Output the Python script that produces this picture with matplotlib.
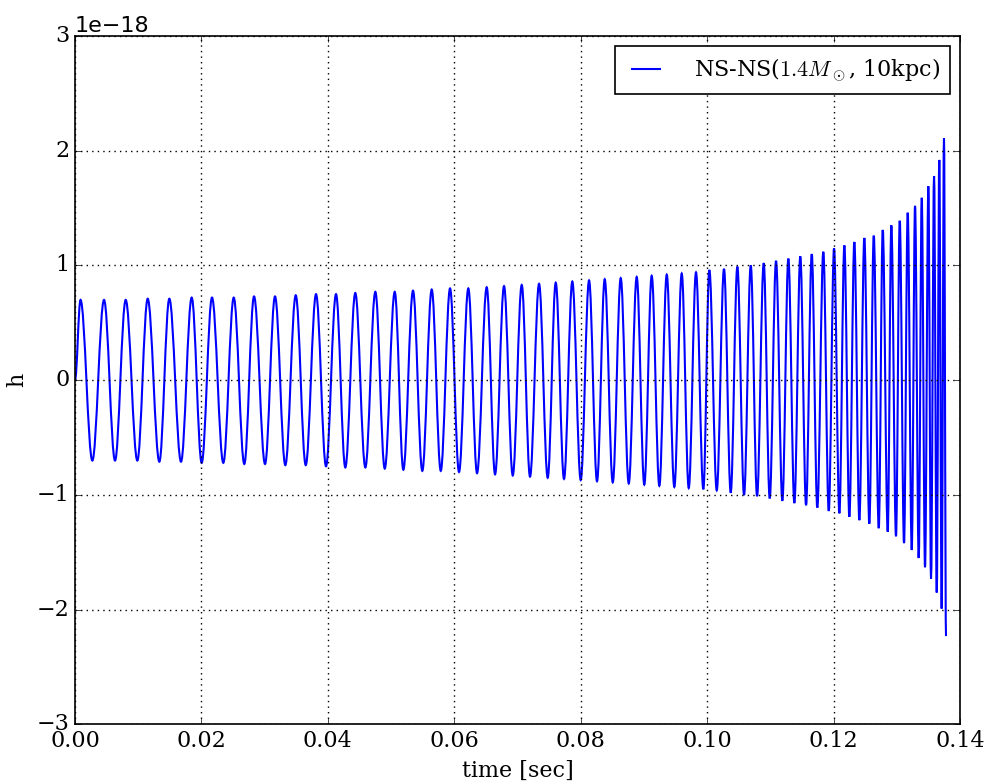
import matplotlib
matplotlib.use("Agg")
import matplotlib.pyplot as plt
import numpy as np
from matplotlib.path import Path
from matplotlib.patches import PathPatch
from matplotlib.lines import Line2D

# successive extrema of the waveform (start at t=0, h=0)
t_ext = [
    0.0, 0.00087, 0.00274, 0.00459, 0.00633, 0.00802, 0.00986, 0.01150,
    0.01334, 0.01492, 0.01677, 0.01846, 0.02004, 0.02167, 0.02346, 0.02511,
    0.02678, 0.02832, 0.03006, 0.03164, 0.03327, 0.03492, 0.03650, 0.03813,
    0.03971, 0.04129, 0.04276, 0.04434, 0.04593, 0.04751, 0.04900, 0.05058,
    0.05194, 0.05347, 0.05494, 0.05643, 0.05786, 0.05933, 0.06075, 0.06222,
    0.06360, 0.06513, 0.06645, 0.06787, 0.06925, 0.07067, 0.07198, 0.07341,
    0.07478, 0.07605, 0.07736, 0.07867, 0.08000, 0.08132, 0.08258, 0.08380,
    0.08507, 0.08633, 0.08760, 0.08886, 0.09006, 0.09123, 0.09244, 0.09361,
    0.09481, 0.09598, 0.09709, 0.09824, 0.09940, 0.10035, 0.10152, 0.10267,
    0.10373, 0.10478, 0.10584, 0.10690, 0.10790, 0.10895, 0.10990, 0.11090,
    0.11190, 0.11285, 0.11380, 0.11474, 0.11565, 0.11655, 0.11743, 0.11838,
    0.11924, 0.12008, 0.12092, 0.12171, 0.12250, 0.12329, 0.12408, 0.12487,
    0.12566, 0.12636, 0.12715, 0.12778, 0.12857, 0.12914, 0.12988, 0.13047,
    0.13115, 0.13173, 0.13237, 0.13289, 0.13347, 0.13395, 0.13447, 0.13500,
    0.13542, 0.13590, 0.13632, 0.13673, 0.13710, 0.13747, 0.13779,
]

# h at those extrema, in units of 1e-18
h_ext = [
    0.0, 0.70, -0.70, 0.70, -0.70, 0.70, -0.70, 0.71,
    -0.71, 0.71, -0.71, 0.72, -0.72, 0.72, -0.72, 0.72,
    -0.73, 0.73, -0.73, 0.73, -0.74, 0.74, -0.74, 0.75,
    -0.75, 0.75, -0.76, 0.76, -0.76, 0.77, -0.77, 0.77,
    -0.78, 0.78, -0.79, 0.79, -0.79, 0.80, -0.80, 0.80,
    -0.81, 0.81, -0.82, 0.82, -0.83, 0.83, -0.84, 0.84,
    -0.85, 0.85, -0.86, 0.86, -0.87, 0.87, -0.88, 0.88,
    -0.89, 0.89, -0.90, 0.90, -0.91, 0.91, -0.92, 0.92,
    -0.93, 0.93, -0.94, 0.94, -0.95, 0.96, -0.96, 0.97,
    -0.98, 0.99, -1.00, 1.00, -1.01, 1.02, -1.03, 1.04,
    -1.05, 1.06, -1.07, 1.08, -1.09, 1.10, -1.11, 1.12,
    -1.14, 1.15, -1.16, 1.175, -1.19, 1.205, -1.22, 1.24,
    -1.25, 1.26, -1.29, 1.31, -1.32, 1.35, -1.36, 1.39,
    -1.42, 1.46, -1.48, 1.52, -1.55, 1.59, -1.63, 1.69,
    -1.73, 1.78, -1.85, 1.92, -1.99, 2.11, -2.23,
]

x_ticks = [0.00, 0.02, 0.04, 0.06, 0.08, 0.10, 0.12, 0.14]
y_ticks = [-3, -2, -1, 0, 1, 2, 3]

plt.style.use("classic")
plt.rcParams["font.family"] = "DejaVu Serif"
plt.rcParams["mathtext.fontset"] = "cm"
plt.rcParams["font.size"] = 16

fig = plt.figure(figsize=(9.91, 7.83), dpi=100)
fig.patch.set_facecolor("white")
ax = fig.add_axes([0.0757, 0.0748, 0.893, 0.8792])

t = np.array(t_ext)
h = np.array(h_ext) * 1e-18

# smooth bezier segments between successive extrema (flat at each extremum)
c = 0.364
verts = [(t[0], h[0])]
codes = [Path.MOVETO]
for i in range(len(t) - 1):
    dt = t[i + 1] - t[i]
    verts += [(t[i] + c * dt, h[i]), (t[i + 1] - c * dt, h[i + 1]),
              (t[i + 1], h[i + 1])]
    codes += [Path.CURVE4] * 3
wave = PathPatch(Path(verts, codes), facecolor="none", edgecolor="blue",
                 lw=1.5, transform=ax.transData)
ax.add_patch(wave)

ax.set_xlim(0, 0.14)
ax.set_ylim(-3e-18, 3e-18)
ax.set_xticks(x_ticks)
ax.set_yticks(np.array(y_ticks) * 1e-18)

ax.grid(True, color="black", linestyle=":", linewidth=1.0)
ax.set_xlabel("time [sec]", labelpad=6)
ax.set_ylabel("h", labelpad=6)

for s in ax.spines.values():
    s.set_linewidth(1.2)

ax.yaxis.get_offset_text().set_family("DejaVu Sans")

handle = Line2D([], [], color="blue", lw=1.5)
leg = ax.legend([handle], [r"NS-NS($1.4M_\odot$, 10kpc)"],
                loc="upper right", fancybox=False, shadow=False,
                fontsize=16, borderpad=0.45, handlelength=1.9,
                handletextpad=1.2, borderaxespad=0.45)
leg.get_frame().set_linewidth(1.2)

fig.savefig("out.png", dpi=100, facecolor="white")
